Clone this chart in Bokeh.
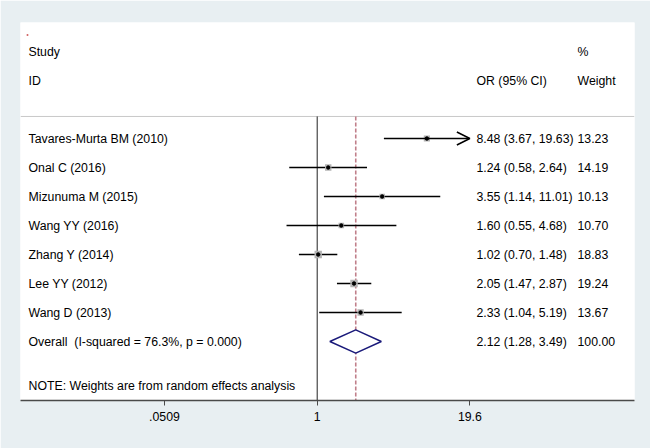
import math
from bokeh.plotting import figure
from bokeh.models import Range1d, FixedTicker, Arrow, OpenHead, ColumnDataSource
from bokeh.core.properties import value
from bokeh.embed import file_html
from bokeh.resources import INLINE

# ---------------- data ----------------
studies = ["Tavares-Murta BM (2010)", "Onal C (2016)", "Mizunuma M (2015)",
           "Wang YY (2016)", "Zhang Y (2014)", "Lee YY (2012)", "Wang D (2013)"]
or_vals = [8.48, 1.24, 3.55, 1.60, 1.02, 2.05, 2.33]
ci_lo = [3.67, 0.58, 1.14, 0.55, 0.70, 1.47, 1.04]
ci_hi = [19.63, 2.64, 11.01, 4.68, 1.48, 2.87, 5.19]
weights = [13.23, 14.19, 10.13, 10.70, 18.83, 19.24, 13.67]

overall_label = "Overall\u00a0 (I-squared = 76.3%, p = 0.000)"
overall_or = 2.12
overall_lo = 1.28
overall_hi = 3.49
overall_weight = 100.00

tick_values = [0.0509, 1, 19.6]
tick_labels = [".0509", "1", "19.6"]
axis_max = 19.6

note = "NOTE: Weights are from random effects analysis"

# ---------------- layout helpers ----------------
FONT = "Liberation Sans"
FS = "12.3px"
BG = "#e8eff2"
X_ONE_PX = 316.7      # page pixel of OR = 1
PX_PER_LN = 51.3
FRAME_L, FRAME_R = 20, 634


def xd(px):
    """page pixel -> data x on log axis"""
    return math.exp((px - X_ONE_PX) / PX_PER_LN)


rows = list(range(len(studies)))
overall_row = len(studies)

p = figure(width=650, height=448, x_axis_type="log",
           x_range=Range1d(xd(FRAME_L), xd(FRAME_R)),
           y_range=Range1d(9.034, -4.0),
           output_backend="svg", toolbar_location=None,
           min_border_left=20, min_border_right=16,
           min_border_top=22, min_border_bottom=48)
p.background_fill_color = "white"
p.border_fill_color = BG
p.outline_line_color = None
p.grid.visible = False
p.yaxis.visible = False

ax = p.xaxis[0]
ax.ticker = FixedTicker(ticks=tick_values, minor_ticks=[])
ax.major_label_overrides = {v: l for v, l in zip(tick_values, tick_labels)}
ax.axis_line_color = "#4a4a4a"
ax.axis_line_width = 1.6
ax.major_tick_line_color = "#4a4a4a"
ax.major_tick_out = 5
ax.major_tick_in = 0
ax.minor_tick_line_color = None
ax.major_label_standoff = 6
ax.major_label_text_font = FONT
ax.major_label_text_font_size = FS
ax.major_label_text_color = "black"

# header separator line
p.line([xd(FRAME_L), xd(FRAME_R)], [-0.76, -0.76], line_color="#c8c8c8", line_width=1)

# null line and overall dashed line
p.line([1, 1], [-0.76, 9.034], line_color="#222222", line_width=1)
p.line([overall_or, overall_or], [-0.76, 9.034], line_color="#c07f8a",
       line_width=1.6, line_dash="4 2")

# confidence intervals
for r, lo, hi in zip(rows, ci_lo, ci_hi):
    if hi > axis_max:
        p.add_layout(Arrow(end=OpenHead(size=13, line_width=1.5, line_color="black"),
                           x_start=lo, y_start=r, x_end=axis_max, y_end=r,
                           line_color="black", line_width=1.5))
    else:
        p.line([lo, hi], [r, r], line_color="black", line_width=1.5)

# weight boxes and point estimates
box_sizes = [1.7 * math.sqrt(w) for w in weights]
src = ColumnDataSource(dict(x=or_vals, y=rows, s=box_sizes))
p.scatter("x", "y", size="s", marker="square", source=src,
          fill_color="#b4b4b4", line_color=None)
p.scatter("x", "y", size=3.5, source=src, fill_color="black", line_color="black")

# overall diamond
p.patch([overall_lo, overall_or, overall_hi, overall_or],
        [overall_row, overall_row - 0.4, overall_row, overall_row + 0.4],
        fill_color="white", line_color="#1a1a7a", line_width=1.5)

# texts
def txt(x, y, s, align="left"):
    p.text(x=[x], y=[y], text=[s], text_font=value(FONT), text_font_size=FS,
           text_color="black", text_baseline="middle", text_align=align)

txt(xd(28), -3.0, "Study")
txt(xd(28), -2.0, "ID")
txt(xd(476), -2.0, "OR (95% CI)")
txt(xd(577), -3.0, "%")
txt(xd(577), -2.0, "Weight")

for r, name, o, lo, hi, w in zip(rows, studies, or_vals, ci_lo, ci_hi, weights):
    txt(xd(28), r, name)
    txt(xd(476), r, f"{o:.2f} ({lo:.2f}, {hi:.2f})")
    txt(xd(577), r, f"{w:.2f}")

txt(xd(28), overall_row, overall_label)
txt(xd(476), overall_row, f"{overall_or:.2f} ({overall_lo:.2f}, {overall_hi:.2f})")
txt(xd(577), overall_row, f"{overall_weight:.2f}")
txt(xd(28), 8.55, note)

# tiny stray mark at top left
p.scatter([xd(27)], [-3.57], size=2, fill_color="#d06060", line_color=None)

open("out.html", "w").write(file_html(p, INLINE))
